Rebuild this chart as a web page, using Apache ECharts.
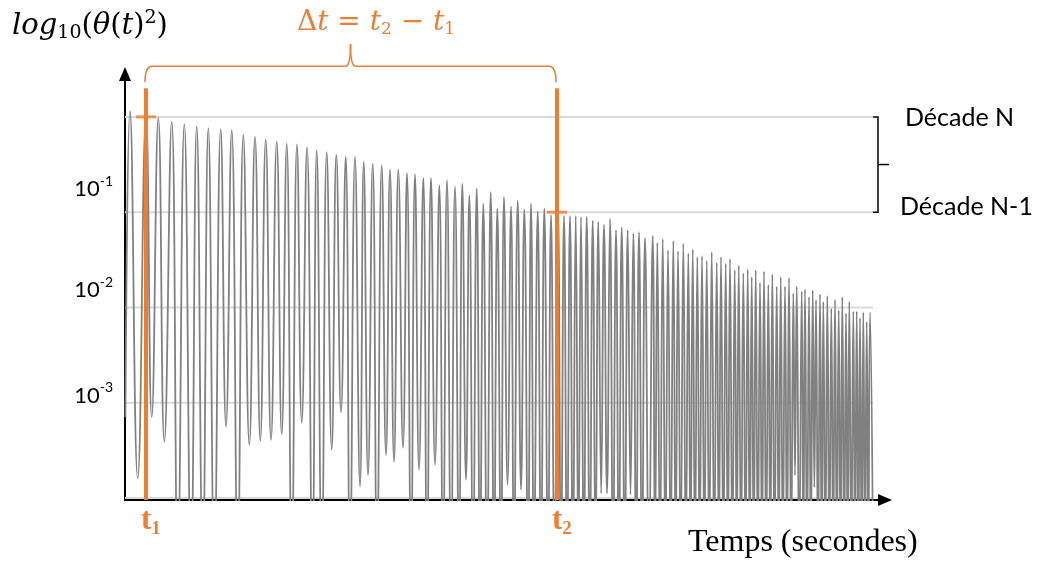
<!DOCTYPE html>
<html>
<head>
<meta charset="utf-8">
<script src="https://cdn.jsdelivr.net/npm/echarts@6/dist/echarts.min.js"></script>
<style>html,body{margin:0;padding:0;background:#fff}#c{width:1044px;height:561px}</style>
</head>
<body>
<div id="c"></div>
<script>
// ---- data (time in s, value = log10(theta^2)) ----
const peakT = [
  1.25, 5.25, 8.33, 11.68, 14.83, 17.93, 20.83, 23.93, 26.68, 29.58,
  32.5, 35.18, 37.93, 40.43, 43.0, 45.5, 47.93, 50.43, 52.83, 55.18,
  57.5, 59.68, 61.93, 64.18, 66.25, 68.33, 70.5, 72.5, 74.58, 76.5,
  78.58, 80.5, 82.5, 84.33, 86.08, 87.93, 89.58, 91.43, 93.08, 94.75,
  96.5, 98.18, 99.83, 101.5, 103.18, 104.83, 106.5, 108.25, 109.75, 111.25,
  112.68, 114.0, 115.43, 116.93, 118.33, 119.75, 121.25, 122.75, 124.18, 125.68,
  127.08, 128.5, 130.0, 131.93, 133.08, 134.43, 135.75, 137.08, 138.25, 139.58,
  140.83, 141.93, 143.08, 144.25, 145.43, 146.68, 147.93, 149.0, 150.18, 151.25,
  152.43, 153.43, 154.58, 155.68, 156.68, 157.68, 158.75, 159.75, 160.83, 161.83,
  162.93, 163.93, 165.0, 166.0, 167.08, 167.93, 169.18, 170.0, 171.0, 171.93,
  172.75, 173.75, 174.58, 175.58, 176.58, 177.5, 178.43, 179.33, 180.25, 181.08,
  182.08, 182.93, 183.75, 184.58, 185.43, 186.25
];
const peakE = [
  0.06, 0.00, -0.01, -0.05, -0.08, -0.10, -0.12, -0.13, -0.14, -0.19,
  -0.21, -0.24, -0.26, -0.28, -0.29, -0.32, -0.35, -0.37, -0.40, -0.42,
  -0.42, -0.47, -0.49, -0.51, -0.55, -0.55, -0.59, -0.60, -0.64, -0.64,
  -0.72, -0.66, -0.73, -0.70, -0.82, -0.75, -0.91, -0.79, -0.96, -0.84,
  -0.94, -0.88, -0.97, -0.91, -0.99, -0.96, -1.03, -1.00, -1.04, -1.04,
  -1.04, -1.05, -1.05, -1.09, -1.10, -1.13, -1.07, -1.19, -1.16, -1.19,
  -1.22, -1.21, -1.27, -1.25, -1.32, -1.28, -1.40, -1.30, -1.41, -1.33,
  -1.43, -1.39, -1.47, -1.46, -1.51, -1.42, -1.53, -1.47, -1.54, -1.49,
  -1.61, -1.56, -1.64, -1.60, -1.68, -1.61, -1.74, -1.62, -1.76, -1.65,
  -1.78, -1.68, -1.78, -1.69, -1.85, -1.78, -1.83, -1.81, -1.89, -1.82,
  -1.92, -1.86, -1.94, -1.88, -2.01, -1.92, -2.03, -1.89, -2.06, -1.94,
  -2.04, -2.04, -2.11, -2.05, -2.15, -2.05
];
const troughT = [
  0.1,
  3.18, 6.68, 9.83, 13.18, 16.5, 19.43, 22.33, 25.25, 28.18, 31.08,
  33.83, 36.5, 39.18, 41.68, 44.18, 46.83, 49.18, 51.68, 54.0, 56.25,
  58.75, 60.75, 63.0, 65.25, 67.25, 69.5, 71.5, 73.5, 75.5, 77.5,
  79.5, 81.5, 83.5, 85.25, 87.0, 88.75, 90.5, 92.25, 94.0, 95.63,
  97.25, 99.0, 100.75, 102.25, 104.0, 105.75, 107.38,
  109.0, 110.5, 111.96, 113.34, 114.71, 116.18, 117.63, 119.04, 120.5, 122.0,
  123.46, 124.93, 126.38, 127.79, 129.25, 130.96, 132.5, 133.75, 135.09, 136.41,
  137.66, 138.91, 140.2, 141.38, 142.5, 143.66, 144.84, 146.05, 147.3, 148.46,
  149.59, 150.71, 151.84, 152.93, 154.0, 155.13, 156.18, 157.18, 158.21, 159.25,
  160.29, 161.33, 162.38, 163.43, 164.46, 165.5, 166.54, 167.5, 168.55, 169.59,
  170.5, 171.46, 172.34, 173.25, 174.16, 175.08, 176.08, 177.04, 177.96, 178.88,
  179.79, 180.66, 181.58, 182.5, 183.34, 184.16, 185.0, 185.84,
  187.0
];
const troughE = [
  -3.15,
  -3.79, -3.15, -3.41, -4.6, -4.6, -4.6, -4.6, -3.25, -4.6, -3.44,
  -3.40, -3.39, -3.33, -4.6, -3.21, -4.6, -4.6, -3.49, -3.10, -4.6,
  -3.88, -3.76, -4.6, -3.55, -3.62, -3.47, -4.6, -3.70, -4.6, -3.65,
  -4.6, -4.6, -4.6, -3.81, -4.6, -4.6, -4.6, -4.6, -4.6, -3.86,
  -4.6, -3.91, -4.6, -4.6, -4.6, -4.6, -4.6,
  -4.6, -4.6, -4.6, -4.6, -4.6, -4.6, -4.6, -3.95, -3.95, -4.6,
  -4.6, -4.6, -3.96, -4.6, -4.6, -4.6, -4.6, -4.6, -4.6, -4.6,
  -4.6, -4.6, -4.6, -4.6, -4.6, -4.6, -4.6, -4.6, -4.6, -4.6,
  -4.6, -4.6, -4.6, -4.6, -4.6, -4.6, -4.6, -4.6, -4.6, -4.6,
  -4.6, -4.6, -4.6, -4.6, -4.6, -4.6, -4.6, -3.76, -4.6, -4.6,
  -4.6, -4.6, -3.89, -4.6, -4.6, -4.6, -4.6, -4.6, -4.6, -4.6,
  -4.6, -4.6, -4.6, -4.6, -4.6, -4.6, -4.6, -4.6,
  -4.6
];
const gridLevels = [0, -1, -2, -3, -4];   // decades drawn as light lines
const gridEndT = 187;
const markT = [5.25, 108.0];               // t1, t2
const markLevel = [0, -1];                 // Décade N, Décade N-1
const markTopE = 0.30;
const yLabelValues = [-1, -2, -3];
const X_MIN = 0, X_MAX = 190, Y_MIN = -4.02, Y_MAX = 0.45;

const OR = '#ED7D31';

const curve = [];
for (let i = 0; i < peakT.length; i++) {
  curve.push([troughT[i], troughE[i]]);
  curve.push([peakT[i], peakE[i]]);
}
curve.push([troughT[peakT.length], troughE[peakT.length]]);

const series = [];
gridLevels.forEach(function (lev) {
  series.push({
    type: 'line', data: [[X_MIN, lev], [gridEndT, lev]], symbol: 'none', silent: true,
    lineStyle: { color: '#d9d9d9', width: 2 }, z: 1
  });
});
series.push({
  type: 'line', data: curve, symbol: 'none', showSymbol: false, smooth: 0.5, silent: true,
  lineStyle: { color: '#808080', width: 1.8 }, z: 3
});
markT.forEach(function (t, k) {
  series.push({
    type: 'line', data: [[t, markTopE], [t, Y_MIN]], symbol: 'none', silent: true, clip: false,
    lineStyle: { color: OR, width: 4, cap: 'butt' }, z: 5
  });
  series.push({
    type: 'scatter', data: [[t, markLevel[k]]], symbol: 'rect', symbolSize: [20, 3], silent: true,
    itemStyle: { color: OR }, z: 6
  });
});

const serif = 'DejaVu Serif';
const LBL = { fontFamily: 'Lato', fontWeight: 'normal', color: '#000', lineHeight: 24 };
function lbl(size, pb) { return Object.assign({}, LBL, { fontSize: size, padding: [0, 0, pb, 0] }); }
const option = {
  animation: false,
  backgroundColor: '#ffffff',
  grid: { left: 125, top: 74, width: 760, height: 426 },
  xAxis: {
    type: 'value', min: X_MIN, max: X_MAX,
    axisLine: { show: true, onZero: false, symbol: ['none', 'triangle'], symbolSize: [12, 14],
      lineStyle: { color: '#000', width: 2 } },
    axisTick: { show: false }, axisLabel: { show: false }, splitLine: { show: false }
  },
  yAxis: {
    type: 'value', min: Y_MIN, max: Y_MAX,
    axisLine: { show: true, onZero: false, symbol: ['none', 'triangle'], symbolSize: [12, 14],
      lineStyle: { color: '#000', width: 2 } },
    axisTick: { show: false }, splitLine: { show: false },
    axisLabel: {
      margin: 12, customValues: yLabelValues, color: '#000', fontFamily: 'Lato', fontSize: 22,
      formatter: function (v) {
        const e = Math.round(v);
        if (Math.abs(v - e) > 1e-6 || e > -1 || e < -3) return '';
        const k = -e;
        return '{n' + k + '|10}{s' + k + '|' + e + '}';
      },
      rich: {
        n1: lbl(22, 46), s1: lbl(14, 62),
        n2: lbl(22, 35), s2: lbl(14, 51),
        n3: lbl(22, 14), s3: lbl(14, 30)
      }
    }
  },
  title: [
    {
      left: 12, top: 9, padding: 0,
      text: '{i|log}{sb|10}{r|(}{i|θ}{r|(}{i|t}{r|)}{sp|2}{r|)}',
      textStyle: { color: '#000', fontWeight: 'normal', rich: {
        i: { fontFamily: serif, fontStyle: 'italic', fontWeight: 'normal', fontSize: 29, lineHeight: 34, color: '#000' },
        r: { fontFamily: serif, fontWeight: 'normal', fontSize: 29, lineHeight: 34, color: '#000' },
        sb: { fontFamily: serif, fontWeight: 'normal', fontSize: 19, lineHeight: 34, color: '#000', padding: [14, 0, 0, 0] },
        sp: { fontFamily: serif, fontWeight: 'normal', fontSize: 19, lineHeight: 34, color: '#000', padding: [0, 0, 16, 0] }
      } }
    },
    {
      left: 297, top: 6, padding: 0,
      text: '{r|Δ}{i|t}{r| = }{i|t}{sb|2}{r| − }{i|t}{sb|1}',
      textStyle: { color: OR, fontWeight: 'normal', rich: {
        i: { fontFamily: serif, fontStyle: 'italic', fontWeight: 'normal', fontSize: 28, lineHeight: 34, color: OR },
        r: { fontFamily: serif, fontWeight: 'normal', fontSize: 28, lineHeight: 34, color: OR },
        sb: { fontFamily: serif, fontWeight: 'normal', fontSize: 17, lineHeight: 34, color: OR, padding: [14, 0, 0, 0] }
      } }
    },
    {
      left: 905, top: 103, padding: 0, text: 'Décade N',
      textStyle: { fontFamily: 'Lato', fontSize: 25, fontWeight: 'normal', color: '#000', lineHeight: 30 }
    },
    {
      left: 900, top: 192, padding: 0, text: 'Décade N-1',
      textStyle: { fontFamily: 'Lato', fontSize: 25, fontWeight: 'normal', color: '#000', lineHeight: 30 }
    },
    {
      left: 688, top: 525, padding: 0, text: 'Temps (secondes)',
      textStyle: { fontFamily: 'Liberation Serif', fontSize: 32, fontWeight: 'normal', color: '#000', lineHeight: 36 }
    }
  ],
  series: series
};

const chart = echarts.init(document.getElementById('c'));
chart.setOption(option);

// annotations anchored on the chart's own coordinates
const P = function (t, e) { return chart.convertToPixel({ gridIndex: 0 }, [t, e]); };
const xa = P(markT[0], 0)[0] - 1, xb = P(markT[1], 0)[0] - 1, xm = (xa + xb) / 2;
const yLineTop = P(markT[0], markTopE)[1];
const yb = yLineTop - 6, yh = yLineTop - 22, yc = yLineTop - 44;
const y0 = P(0, markLevel[0])[1], y1 = P(0, markLevel[1])[1];
const xr = P(gridEndT, 0)[0] + 5;
const bs = { stroke: OR, lineWidth: 1.6, fill: null };
const ks = { stroke: '#000', lineWidth: 1.5, fill: null };
const tLabel = function (idx, sub) {
  return {
    left: P(markT[idx], 0)[0] - 5, top: 504, padding: 0,
    text: '{t|t}{s|' + sub + '}',
    textStyle: { color: OR, fontWeight: 'bold', rich: {
      t: { fontFamily: 'Liberation Serif', fontWeight: 'bold', fontSize: 31, lineHeight: 34, color: OR },
      s: { fontFamily: 'Liberation Serif', fontWeight: 'bold', fontSize: 19, lineHeight: 34, color: OR, padding: [16, 0, 0, 0] }
    } }
  };
};
chart.setOption({
  title: option.title.concat([tLabel(0, '1'), tLabel(1, '2')]),
  graphic: { elements: [
    { type: 'bezierCurve', silent: true, shape: { x1: xa, y1: yb, cpx1: xa, cpy1: yh, x2: xa + 7, y2: yh }, style: bs },
    { type: 'line', silent: true, shape: { x1: xa + 7, y1: yh, x2: xm - 5, y2: yh }, style: bs },
    { type: 'bezierCurve', silent: true, shape: { x1: xm - 5, y1: yh, cpx1: xm, cpy1: yh, x2: xm, y2: yc }, style: bs },
    { type: 'bezierCurve', silent: true, shape: { x1: xm, y1: yc, cpx1: xm, cpy1: yh, x2: xm + 5, y2: yh }, style: bs },
    { type: 'line', silent: true, shape: { x1: xm + 5, y1: yh, x2: xb - 7, y2: yh }, style: bs },
    { type: 'bezierCurve', silent: true, shape: { x1: xb - 7, y1: yh, cpx1: xb, cpy1: yh, x2: xb, y2: yb }, style: bs },
    { type: 'polyline', silent: true, shape: { points: [[xr - 6, y0], [xr, y0], [xr, y1], [xr - 6, y1]] }, style: ks },
    { type: 'line', silent: true, shape: { x1: xr, y1: (y0 + y1) / 2, x2: xr + 11, y2: (y0 + y1) / 2 }, style: ks }
  ] }
});
</script>
</body>
</html>
